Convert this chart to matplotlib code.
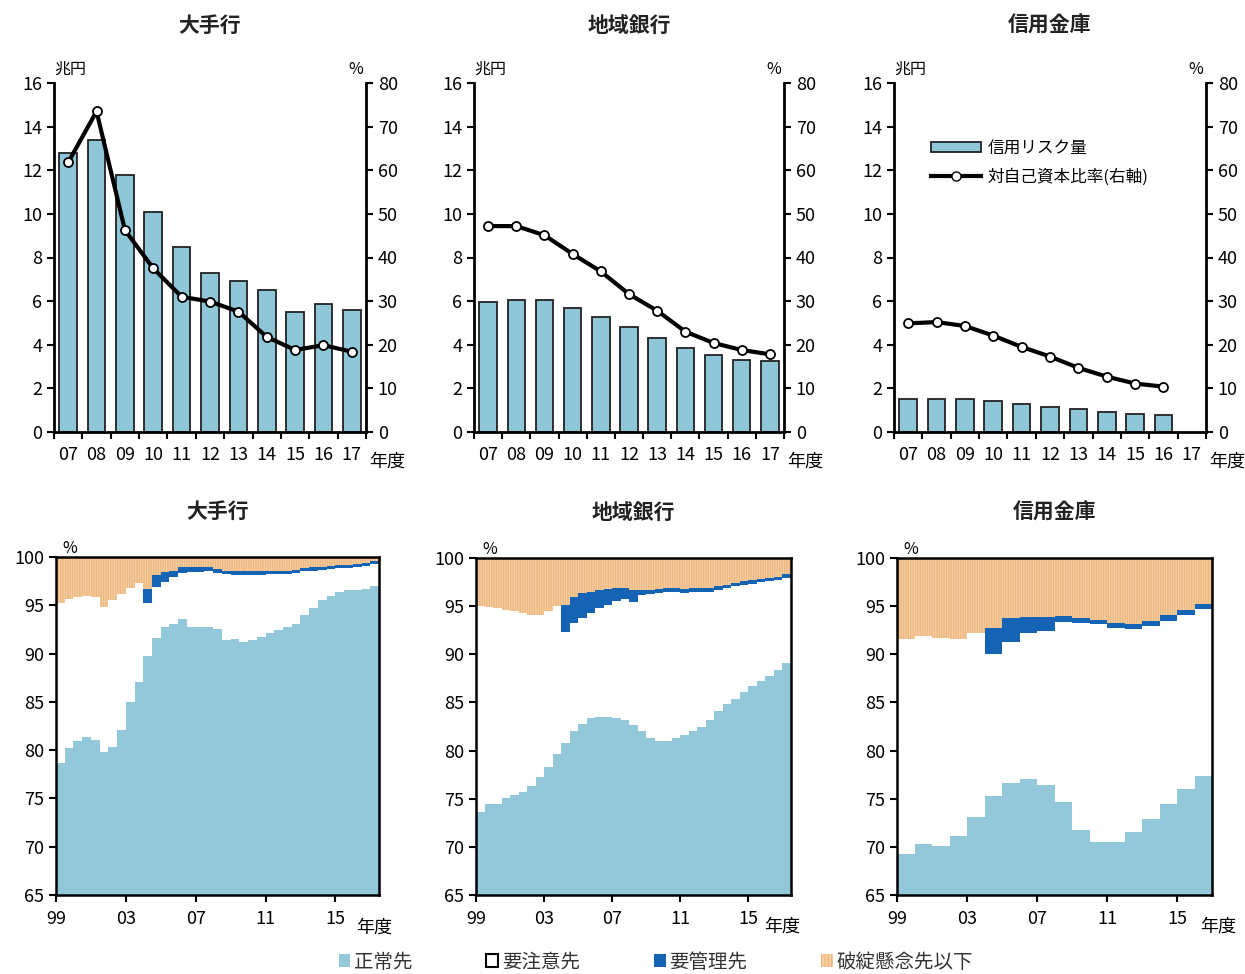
import numpy as np
import matplotlib
matplotlib.use('Agg')
import matplotlib.pyplot as plt
from matplotlib.patches import Patch
from matplotlib.lines import Line2D

plt.rcParams['font.family'] = ['Noto Sans CJK JP', 'DejaVu Sans']
plt.rcParams['hatch.linewidth'] = 1.0

W, H = 1245, 974
fig = plt.figure(figsize=(W / 100, H / 100), dpi=100)

# ---- 上段: 信用リスク量(兆円) と 対自己資本比率(%) ----
years = ['07', '08', '09', '10', '11', '12', '13', '14', '15', '16', '17']
risk_major = [12.8, 13.4, 11.8, 10.1, 8.5, 7.3, 6.9, 6.5, 5.5, 5.85, 5.6]
ratio_major = [61.8, 73.5, 46.3, 37.5, 31.0, 29.9, 27.6, 21.8, 18.8, 19.9, 18.4]
risk_regional = [5.97, 6.05, 6.05, 5.67, 5.25, 4.82, 4.29, 3.83, 3.55, 3.32, 3.26]
ratio_regional = [47.2, 47.2, 45.1, 40.8, 36.8, 31.6, 27.8, 23.0, 20.4, 18.8, 17.8]
risk_shinkin = [1.5, 1.53, 1.53, 1.42, 1.3, 1.16, 1.04, 0.92, 0.84, 0.79]
ratio_shinkin = [24.9, 25.2, 24.3, 22.1, 19.5, 17.3, 14.7, 12.7, 11.1, 10.4]

# ---- 下段: 債務者区分別構成比(%) ----
# 大手行・地域銀行は半期(99年度上期〜17年度上期), 信用金庫は年度(99〜16年度)
normal_major = [78.7, 80.2, 80.9, 81.4, 81.0, 79.8, 80.3, 82.1, 85.0, 87.1, 89.8, 91.6, 92.8,
                93.1, 93.6, 92.8, 92.7, 92.7, 92.5, 91.4, 91.5, 91.2, 91.4, 91.7, 92.1, 92.4,
                92.7, 93.1, 94.0, 94.7, 95.5, 96.0, 96.4, 96.6, 96.6, 96.7, 97.0]
caution_major = [16.5, 15.5, 15.0, 14.6, 14.9, 15.0, 15.2, 14.1, 11.8, 10.2, 5.4, 5.3, 4.6,
                 4.8, 4.7, 5.6, 5.7, 5.8, 5.8, 6.8, 6.6, 6.9, 6.7, 6.4, 6.1, 5.8,
                 5.5, 5.2, 4.5, 3.9, 3.2, 2.8, 2.5, 2.3, 2.4, 2.4, 2.3]
kanri_major = [0, 0, 0, 0, 0, 0, 0, 0, 0, 0, 1.5, 1.2, 1.0,
               0.7, 0.7, 0.6, 0.6, 0.5, 0.5, 0.4, 0.4, 0.4, 0.4, 0.4, 0.4, 0.4,
               0.4, 0.4, 0.4, 0.4, 0.3, 0.3, 0.3, 0.3, 0.3, 0.3, 0.3]

normal_regional = [73.6, 74.4, 74.5, 75.1, 75.4, 75.7, 76.3, 77.3, 78.3, 79.6, 80.8, 82.0, 82.8,
                   83.4, 83.5, 83.5, 83.4, 83.2, 82.7, 82.0, 81.3, 81.0, 81.0, 81.3, 81.6, 82.0,
                   82.5, 83.2, 84.1, 84.8, 85.4, 86.1, 86.7, 87.2, 87.7, 88.4, 89.1]
caution_regional = [21.4, 20.5, 20.3, 19.5, 19.1, 18.6, 17.8, 16.8, 16.2, 15.4, 11.5, 11.2, 11.0,
                    10.9, 11.3, 11.6, 12.1, 12.5, 12.7, 14.2, 15.0, 15.4, 15.5, 15.2, 14.8, 14.5,
                    14.0, 13.3, 12.6, 12.1, 11.7, 11.1, 10.6, 10.3, 9.9, 9.3, 8.8]
kanri_regional = [0, 0, 0, 0, 0, 0, 0, 0, 0, 0, 2.8, 2.8, 2.6,
                  2.2, 1.9, 1.7, 1.4, 1.2, 1.3, 0.5, 0.4, 0.4, 0.4, 0.4, 0.4, 0.4,
                  0.4, 0.4, 0.4, 0.3, 0.3, 0.4, 0.4, 0.3, 0.3, 0.3, 0.4]

normal_shinkin = [69.3, 70.3, 70.1, 71.1, 73.1, 75.3, 76.6, 77.0, 76.4, 74.7, 71.7, 70.5, 70.5,
                  71.5, 72.9, 74.5, 76.0, 77.4]
caution_shinkin = [22.3, 21.6, 21.6, 20.5, 19.1, 14.7, 14.7, 15.2, 16.0, 18.7, 21.6, 22.6, 22.2,
                   21.1, 20.0, 19.0, 18.1, 17.3]
kanri_shinkin = [0, 0, 0, 0, 0, 2.7, 2.5, 1.7, 1.5, 0.6, 0.5, 0.5, 0.5, 0.5, 0.6, 0.6, 0.5, 0.5]

BAR = '#8FC6D8'
NORMAL = '#92C8DA'
KANRI = '#1463B4'
HATAN = '#F8D0A6'
HATAN_LINE = '#EDB880'


def rect(l, t, r, b):
    return [l / W, 1 - b / H, (r - l) / W, (b - t) / H]


def top_panel(r, title, risk, ratio, legend=False):
    ax = fig.add_axes(rect(*r))
    x = np.arange(len(years))
    ax.bar(x[:len(risk)], risk, width=0.62, color=BAR, edgecolor='#222222', linewidth=1.3, zorder=2)
    ax.set_xlim(-0.5, len(years) - 0.5)
    ax.set_ylim(0, 16)
    ax.set_yticks(range(0, 17, 2))
    ax.set_xticks(x, years)
    ax.set_xticks(np.arange(-0.5, len(years)), minor=True)
    ax.tick_params(axis='x', which='major', length=0, pad=10, labelsize=13)
    ax.tick_params(axis='x', which='minor', length=5, width=1.5, direction='out')
    ax.tick_params(axis='y', length=5, width=1.5, direction='out', labelsize=13)
    for s in ['left', 'bottom']:
        ax.spines[s].set_linewidth(2)
    ax.spines['top'].set_visible(False)
    ax.spines['right'].set_visible(False)

    ax2 = ax.twinx()
    ax2.plot(x[:len(ratio)], ratio, color='black', lw=3.0, marker='o', ms=6.5,
             mfc='white', mec='black', mew=1.3, zorder=3)
    ax2.set_ylim(0, 80)
    ax2.set_yticks(range(0, 81, 10))
    ax2.tick_params(axis='y', length=5, width=1.5, direction='out', labelsize=13)
    for s in ['left', 'top', 'bottom']:
        ax2.spines[s].set_visible(False)
    ax2.spines['right'].set_linewidth(2)

    ax.text(0.0, 1.015, '兆円', transform=ax.transAxes, fontsize=11.5, ha='left', va='bottom')
    ax.text(0.99, 1.015, '%', transform=ax.transAxes, fontsize=11.5, ha='right', va='bottom')
    ax.text(1.01, -0.085, '年度', transform=ax.transAxes, fontsize=13, ha='left', va='center')
    ax.set_title(title, fontsize=15, weight='bold', pad=37, color='#222222')

    if legend:
        h = [Patch(facecolor=BAR, edgecolor='#222222', linewidth=1.3),
             Line2D([], [], color='black', lw=3.0, marker='o', ms=6.5, mfc='white', mec='black')]
        ax.legend(h, ['信用リスク量', '対自己資本比率(右軸)'], loc='upper left',
                  bbox_to_anchor=(0.07, 0.88), frameon=False, fontsize=12,
                  handlelength=3.0, handleheight=0.6, handletextpad=0.4, labelspacing=0.7)


def bottom_panel(r, title, normal, caution, kanri, step, xmax, xlabel_gap):
    ax = fig.add_axes(rect(*r))
    n = len(normal)
    normal = np.array(normal)
    caution = np.array(caution)
    kanri = np.array(kanri)
    x = np.arange(n + 1) * step
    b1 = normal + caution
    b2 = b1 + kanri

    def ext(a):
        return np.append(a, a[-1])

    ax.fill_between(x, 0, ext(normal), step='post', color=NORMAL, lw=0)
    ax.fill_between(x, ext(normal), ext(b1), step='post', color='white', lw=0)
    ax.fill_between(x, ext(b1), ext(b2), step='post', color=KANRI, lw=0)
    ax.fill_between(x, ext(b2), 100, step='post', facecolor=HATAN, edgecolor=HATAN_LINE,
                    hatch='|||||||', lw=0)
    ax.set_xlim(0, xmax)
    ax.set_ylim(65, 100)
    ax.set_yticks(range(65, 101, 5))
    ax.set_xticks([0, 4, 8, 12, 16], ['99', '03', '07', '11', '15'])
    ax.tick_params(length=5, width=1.5, direction='out', labelsize=13)
    ax.tick_params(axis='x', pad=6)
    for s in ax.spines.values():
        s.set_linewidth(1.8)
    ax.text(0.02, 1.0, '%', transform=ax.transAxes, fontsize=11.5, ha='left', va='bottom')
    ax.text(16 + xlabel_gap, 62.6, '年度', transform=ax.transData, fontsize=13,
            ha='left', va='top')
    ax.set_title(title, fontsize=15, weight='bold', pad=28, color='#222222')


top_panel((54, 83, 366, 432), '大手行', risk_major, ratio_major)
top_panel((474, 83, 784, 432), '地域銀行', risk_regional, ratio_regional)
top_panel((894, 83, 1206, 432), '信用金庫', risk_shinkin, ratio_shinkin, legend=True)

bottom_panel((56, 557, 379, 895), '大手行', normal_major, caution_major, kanri_major, 0.5, 18.5, 1.2)
bottom_panel((476, 558, 791, 895), '地域銀行', normal_regional, caution_regional, kanri_regional, 0.5, 18.5, 0.9)
bottom_panel((897, 558, 1212, 895), '信用金庫', normal_shinkin, caution_shinkin, kanri_shinkin, 1.0, 18.0, 1.3)

handles = [Patch(facecolor=NORMAL, edgecolor='none'),
           Patch(facecolor='white', edgecolor='black', linewidth=1.5),
           Patch(facecolor=KANRI, edgecolor='none'),
           Patch(facecolor=HATAN, edgecolor=HATAN_LINE, hatch='|||||', linewidth=0)]
labels = ['正常先', '要注意先', '要管理先', '破綻懸念先以下']
fig.legend(handles, labels, loc='center', bbox_to_anchor=(656 / W, 1 - 962 / H), ncol=4,
           frameon=False, fontsize=14, handlelength=0.6, handleheight=0.6,
           handletextpad=0.2, columnspacing=3.8, labelcolor='#333333')

fig.savefig('out.png', dpi=100)
